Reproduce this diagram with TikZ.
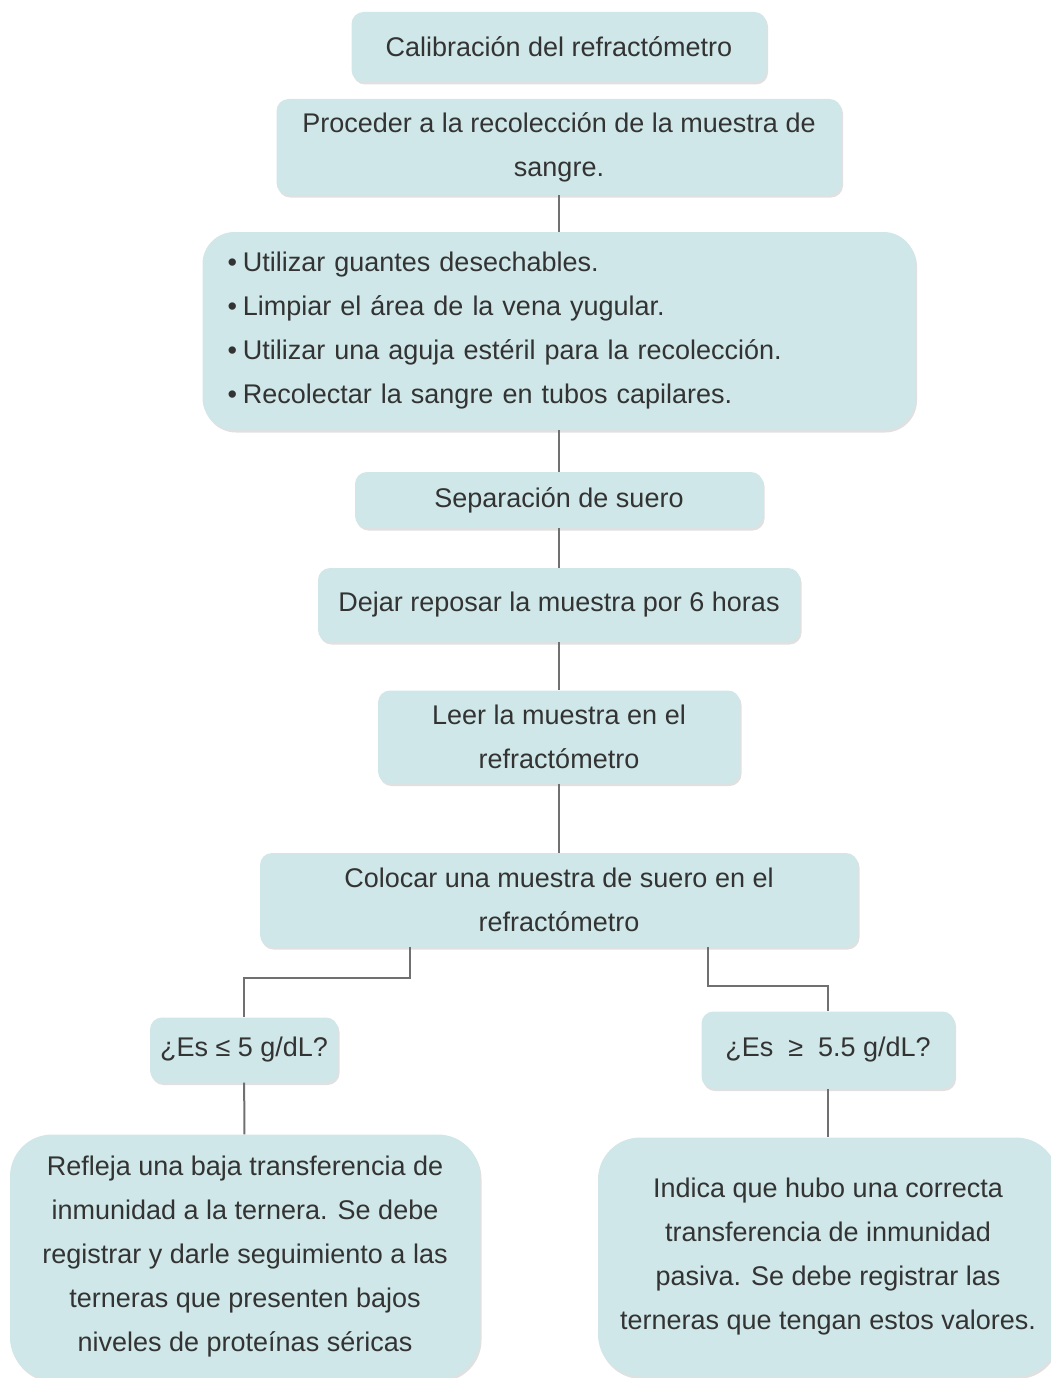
\documentclass[tikz,border=0pt]{standalone}
\usepackage{fontspec}
\setmainfont{Liberation Sans}
\usetikzlibrary{shadows}
\definecolor{cajaazul}{HTML}{CFE7E8}
\definecolor{textogris}{HTML}{333333}
\definecolor{lineagris}{HTML}{707070}
\tikzset{
    caja/.style={rectangle, rounded corners=12pt, fill=cajaazul, text=textogris,
        align=center, inner sep=0pt, font=\fontsize{27}{44}\selectfont,
        drop shadow={shadow xshift=1.5pt, shadow yshift=-2.5pt, opacity=0.12, fill=black}},
    linea/.style={draw=lineagris, line width=2pt}
}
\newcommand{\punto}{\textbullet\hspace{6pt}}
\begin{document}
\begin{tikzpicture}[x=1pt, y=-1pt]
    % 1. Marco de la figura
    \clip (0,0) rectangle (1051,1378);
    \useasboundingbox (0,0) rectangle (1051,1378);

    % 2. Cajas de la columna central
    \node[caja, minimum width=415pt, minimum height=70pt] (calib) at (559,47)
        {Calibración del refractómetro};
    \node[caja, minimum width=565pt, minimum height=96pt] (proc) at (559,147)
        {Proceder a la recolección de la muestra de\\sangre.};
    \node[caja, rounded corners=32pt, minimum width=713pt, minimum height=198pt,
          text width=663pt, align=left] (lista) at (559,331)
        {\punto Utilizar guantes desechables.\\
         \punto Limpiar el área de la vena yugular.\\
         \punto Utilizar una aguja estéril para la recolección.\\
         \punto Recolectar la sangre en tubos capilares.};
    \node[caja, minimum width=408pt, minimum height=56pt] (separ) at (559,500)
        {Separación de suero};
    \node[caja, minimum width=482pt, minimum height=74pt] (dejar) at (559,605)
        {Dejar reposar la muestra por 6 horas};
    \node[caja, minimum width=362pt, minimum height=93pt] (leer) at (559,737)
        {Leer la muestra en el\\refractómetro};
    \node[caja, minimum width=598pt, minimum height=94pt] (coloc) at (559,900)
        {Colocar una muestra de suero en el\\refractómetro};

    % 3. Preguntas
    \node[caja, minimum width=188pt, minimum height=65pt] (menor) at (244,1050)
        {¿Es ≤ 5 g/dL?};
    \node[caja, minimum width=253pt, minimum height=77pt] (mayor) at (828,1050)
        {¿Es \ ≥ \ 5.5 g/dL?};

    % 4. Resultados
    \node[caja, rounded corners=42pt, minimum width=470pt, minimum height=245pt] (baja) at (245,1257)
        {Refleja una baja transferencia de\\inmunidad a la ternera. Se debe\\registrar y darle seguimiento a las\\terneras que presenten bajos\\niveles de proteínas séricas};
    \node[caja, rounded corners=42pt, minimum width=460pt, minimum height=239pt] (buena) at (828,1257)
        {Indica que hubo una correcta\\transferencia de inmunidad\\pasiva. Se debe registrar las\\terneras que tengan estos valores.};

    % 5. Conectores
    \draw[linea] (proc) -- (lista);
    \draw[linea] (lista) -- (separ);
    \draw[linea] (separ) -- (dejar);
    \draw[linea] (dejar) -- (leer);
    \draw[linea] (leer) -- (coloc);
    \draw[linea] ([xshift=-149pt]coloc.south) -- ++(0,31) -| (menor.north);
    \draw[linea] ([xshift=149pt]coloc.south) -- ++(0,39) -| (mayor.north);
    \draw[linea] (menor) -- (baja);
    \draw[linea] (mayor) -- (mayor |- buena.north);
\end{tikzpicture}
\end{document}
